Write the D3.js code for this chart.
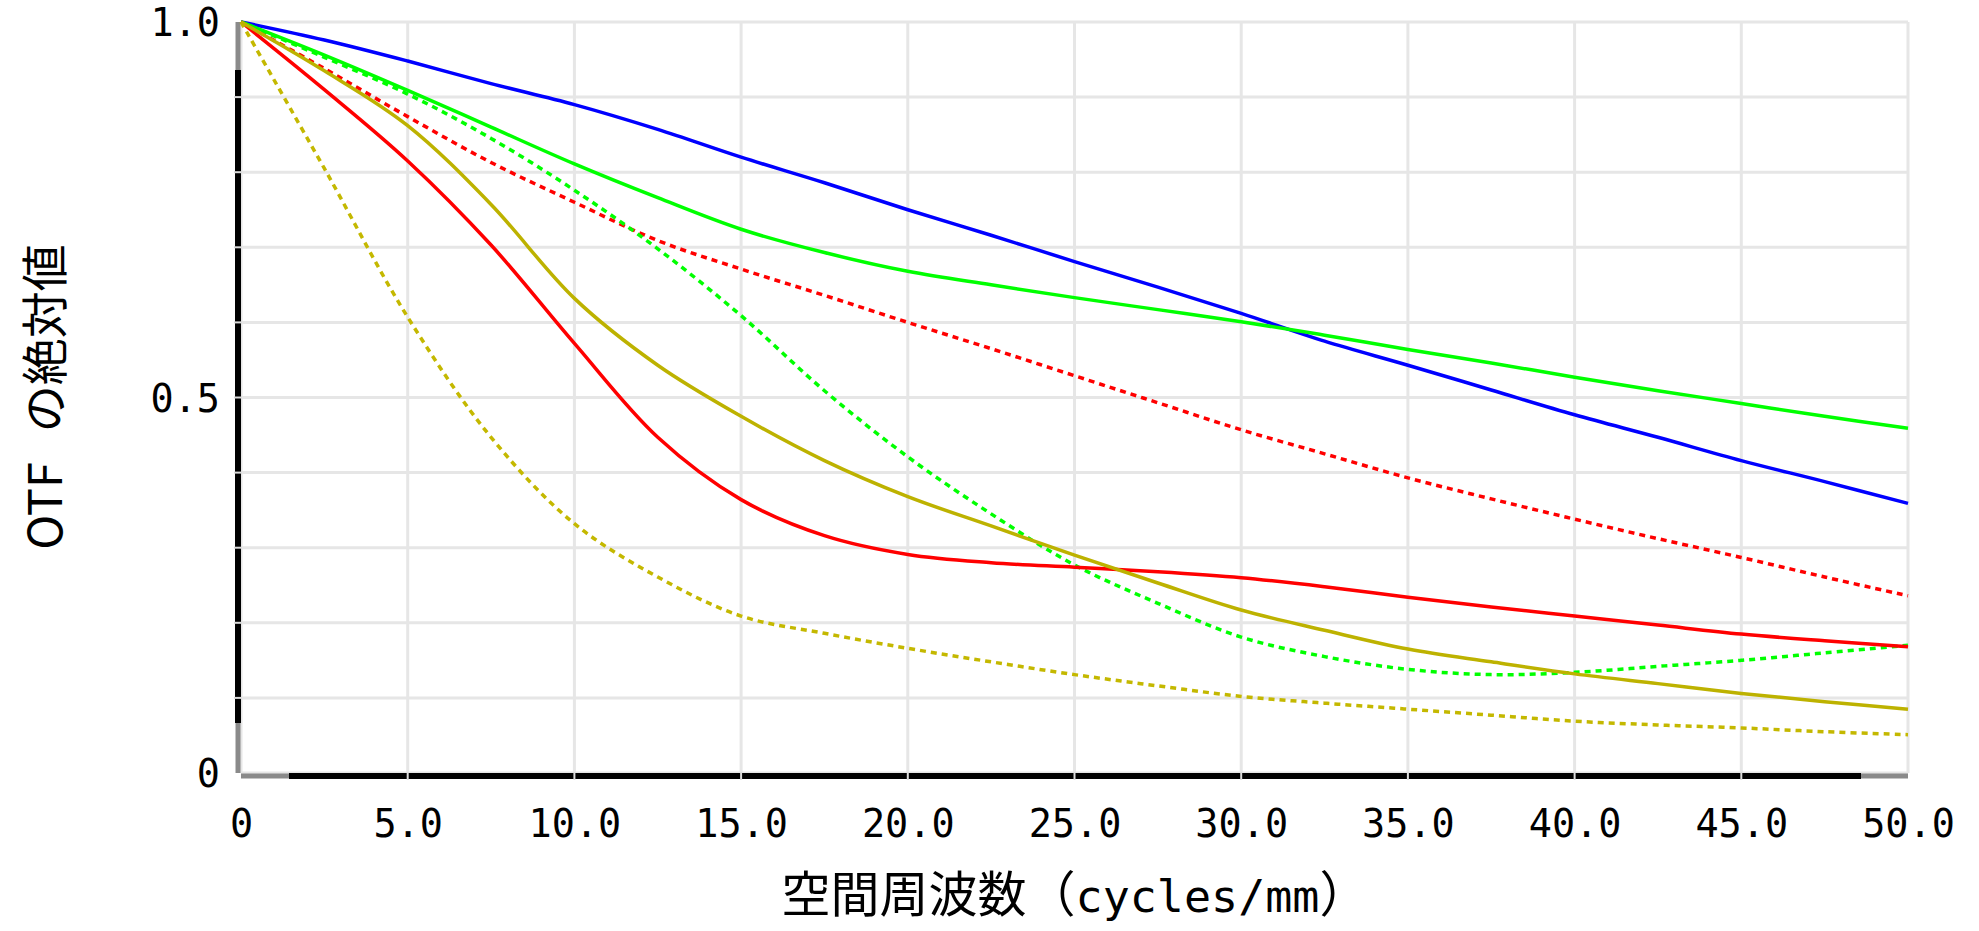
<!DOCTYPE html>
<html>
<head>
<meta charset="utf-8">
<script src="https://cdn.jsdelivr.net/npm/d3@7"></script>
<style>
  html, body { margin: 0; padding: 0; background: #ffffff; }
  svg { display: block; }
</style>
</head>
<body>
<svg id="chart" width="1979" height="931"></svg>
<script>
// ---- data ----
const freq = [0, 2.5, 5, 7.5, 10, 12.5, 15, 17.5, 20, 22.5, 25, 27.5, 30, 32.5, 35, 37.5, 40, 42.5, 45, 47.5, 50];

const blueSolid   = [1, 0.976, 0.948, 0.918, 0.890, 0.857, 0.820, 0.786, 0.750, 0.716, 0.681, 0.647, 0.612, 0.575, 0.543, 0.510, 0.477, 0.447, 0.416, 0.388, 0.359];
const greenSolid  = [1, 0.956, 0.909, 0.860, 0.811, 0.766, 0.724, 0.693, 0.668, 0.650, 0.633, 0.617, 0.601, 0.583, 0.564, 0.546, 0.527, 0.509, 0.492, 0.475, 0.459];
const greenDotted = [1, 0.953, 0.904, 0.845, 0.776, 0.698, 0.609, 0.509, 0.421, 0.345, 0.277, 0.226, 0.181, 0.155, 0.138, 0.131, 0.134, 0.142, 0.150, 0.160, 0.170];
const redSolid    = [1, 0.910, 0.815, 0.703, 0.572, 0.447, 0.364, 0.316, 0.291, 0.280, 0.274, 0.268, 0.260, 0.248, 0.234, 0.221, 0.209, 0.197, 0.185, 0.176, 0.168];
const redDotted   = [1, 0.938, 0.874, 0.813, 0.760, 0.709, 0.671, 0.636, 0.600, 0.565, 0.529, 0.493, 0.457, 0.425, 0.393, 0.365, 0.338, 0.312, 0.287, 0.261, 0.236];
const oliveSolid  = [1, 0.935, 0.862, 0.757, 0.632, 0.543, 0.475, 0.416, 0.368, 0.329, 0.290, 0.253, 0.217, 0.190, 0.165, 0.148, 0.132, 0.119, 0.106, 0.095, 0.085];
const oliveDotted = [1, 0.805, 0.607, 0.447, 0.332, 0.261, 0.209, 0.186, 0.166, 0.148, 0.131, 0.116, 0.102, 0.093, 0.085, 0.077, 0.069, 0.064, 0.060, 0.055, 0.051];

const xTickValues = [0, 5, 10, 15, 20, 25, 30, 35, 40, 45, 50];
const xTickLabels = ["0", "5.0", "10.0", "15.0", "20.0", "25.0", "30.0", "35.0", "40.0", "45.0", "50.0"];
const yTickValues = [0, 0.5, 1.0];
const yTickLabels = ["0", "0.5", "1.0"];
const yGridValues = [0, 0.1, 0.2, 0.3, 0.4, 0.5, 0.6, 0.7, 0.8, 0.9, 1.0];

const xTitleJa = "空間周波数（";
const xTitleUnit = "cycles/mm";
const xTitleClose = "）";
const yTitleLatin = "OTF";
const yTitleJa = "の絶対値";

// ---- layout ----
const L = 241, R = 1908, T = 22, B = 773;
const x = d3.scaleLinear().domain([0, 50]).range([L, R]);
const y = d3.scaleLinear().domain([0, 1]).range([B, T]);

const svg = d3.select("#chart");
const gridColor = "#e6e6e6";
const monoFont = "'DejaVu Sans Mono', monospace";
const cjkFont = "'Noto Sans CJK JP', 'Noto Sans', sans-serif";

// gridlines
const grid = svg.append("g");
grid.selectAll("line.gx").data(xTickValues).enter().append("line")
  .attr("x1", d => x(d)).attr("x2", d => x(d))
  .attr("y1", T).attr("y2", B)
  .attr("stroke", gridColor).attr("stroke-width", 3);
grid.selectAll("line.gy").data(yGridValues).enter().append("line")
  .attr("x1", L).attr("x2", R)
  .attr("y1", d => y(d)).attr("y2", d => y(d))
  .attr("stroke", gridColor).attr("stroke-width", 3);

// axis lines (black with grey end handles)
const ax = svg.append("g");
ax.append("line").attr("x1", 238).attr("x2", 238).attr("y1", T).attr("y2", T + 48)
  .attr("stroke", "#8a8a8a").attr("stroke-width", 5);
ax.append("line").attr("x1", 238).attr("x2", 238).attr("y1", T + 48).attr("y2", B - 50)
  .attr("stroke", "#000").attr("stroke-width", 6);
ax.append("line").attr("x1", 238).attr("x2", 238).attr("y1", B - 50).attr("y2", B)
  .attr("stroke", "#8a8a8a").attr("stroke-width", 5);
ax.append("line").attr("x1", L).attr("x2", L + 48).attr("y1", 776).attr("y2", 776)
  .attr("stroke", "#8a8a8a").attr("stroke-width", 5);
ax.append("line").attr("x1", L + 48).attr("x2", R - 47).attr("y1", 776).attr("y2", 776)
  .attr("stroke", "#000").attr("stroke-width", 6);
ax.append("line").attr("x1", R - 47).attr("x2", R).attr("y1", 776).attr("y2", 776)
  .attr("stroke", "#8a8a8a").attr("stroke-width", 5);
// small breaks where gridlines meet the axes
ax.selectAll("rect.bx").data(xTickValues.slice(1, -1)).enter().append("rect")
  .attr("x", d => x(d) - 1).attr("y", 772).attr("width", 2).attr("height", 8)
  .attr("fill", "#dcdcdc");
ax.selectAll("rect.by").data(yGridValues.slice(1, -1)).enter().append("rect")
  .attr("x", 234).attr("y", d => y(d) - 1).attr("width", 8).attr("height", 2)
  .attr("fill", "#dcdcdc");

// tick labels via d3 axes
const xAxis = d3.axisBottom(x).tickValues(xTickValues)
  .tickFormat((d, i) => xTickLabels[i]).tickSize(0).tickPadding(37);
const gx = svg.append("g").attr("transform", `translate(0,${B})`).call(xAxis);
gx.select(".domain").remove();
gx.selectAll("text").attr("font-family", monoFont).attr("font-size", 38.5).attr("fill", "#000");

const yAxis = d3.axisLeft(y).tickValues(yTickValues)
  .tickFormat((d, i) => yTickLabels[i]).tickSize(0).tickPadding(21);
const gy = svg.append("g").attr("transform", `translate(${L},0)`).call(yAxis);
gy.select(".domain").remove();
gy.selectAll("text").attr("font-family", monoFont).attr("font-size", 38.5).attr("fill", "#000").attr("dy", "0.36em");

// curves
const series = [
  { v: blueSolid,   color: "#0000ff", dash: null },
  { v: greenSolid,  color: "#00ff00", dash: null },
  { v: redDotted,   color: "#ff0000", dash: "6,5" },
  { v: greenDotted, color: "#00ff00", dash: "6,5" },
  { v: redSolid,    color: "#ff0000", dash: null },
  { v: oliveDotted, color: "#c4b800", dash: "6,5" },
  { v: oliveSolid,  color: "#bdb200", dash: null }
];
const line = d3.line().x(d => x(d[0])).y(d => y(d[1])).curve(d3.curveCatmullRom.alpha(0.5));
const curves = svg.append("g");
series.forEach(s => {
  curves.append("path")
    .datum(freq.map((f, i) => [f, s.v[i]]))
    .attr("d", line)
    .attr("fill", "none")
    .attr("stroke", s.color)
    .attr("stroke-width", 3.5)
    .attr("stroke-dasharray", s.dash);
});

// axis titles
const xt = svg.append("text")
  .attr("x", 1075).attr("y", 912)
  .attr("text-anchor", "middle").attr("fill", "#000");
xt.append("tspan").attr("font-family", cjkFont).attr("font-size", 49).text(xTitleJa);
xt.append("tspan").attr("font-family", monoFont).attr("font-size", 45).text(xTitleUnit);
xt.append("tspan").attr("font-family", cjkFont).attr("font-size", 49).text(xTitleClose);

const yt = svg.append("text")
  .attr("transform", "translate(62,397) rotate(-90)")
  .attr("text-anchor", "middle").attr("fill", "#000")
  .attr("font-family", cjkFont).attr("font-size", 47);
yt.append("tspan").text(yTitleLatin);
yt.append("tspan").attr("dx", 30).text(yTitleJa);
</script>
</body>
</html>
